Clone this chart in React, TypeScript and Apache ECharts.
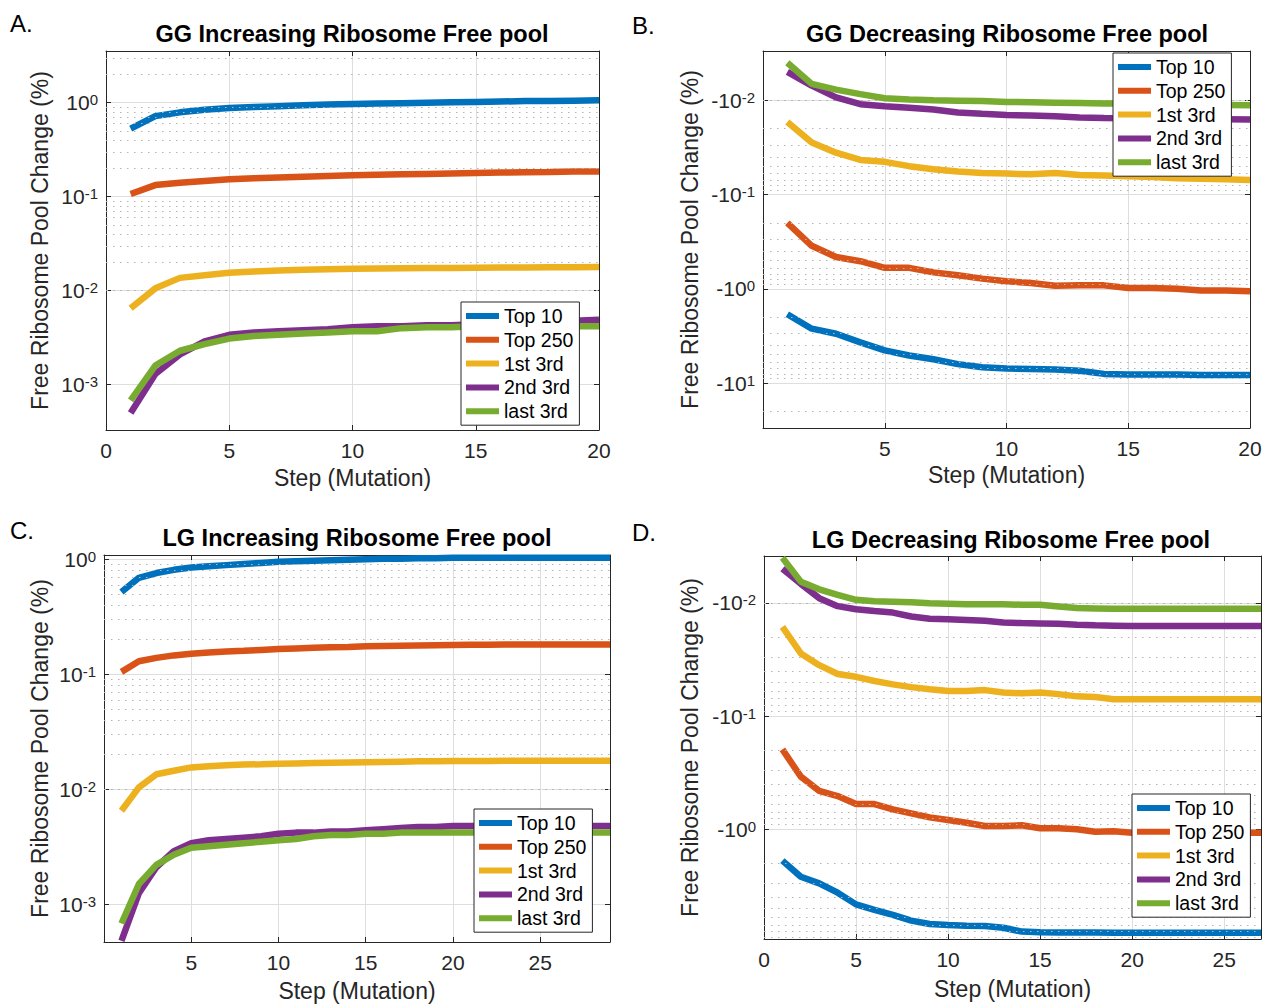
import React, { useEffect, useRef } from 'react';
import * as echarts from 'echarts';

const SERIES_NAMES = ['Top 10', 'Top 250', '1st 3rd', '2nd 3rd', 'last 3rd'];
const COLORS = ['#0072BD', '#D95319', '#EDB120', '#7E2F8E', '#77AC30'];
const PANEL_LETTERS = ['A.', 'B.', 'C.', 'D.'];
const PANEL_TITLES = [
  'GG Increasing Ribosome Free pool',
  'GG Decreasing Ribosome Free pool',
  'LG Increasing Ribosome Free pool',
  'LG Decreasing Ribosome Free pool',
];
const X_NAME = 'Step (Mutation)';
const Y_NAME = 'Free Ribosome Pool Change (%)';

// steps (x values)
const ggSteps = [1, 2, 3, 4, 5, 6, 7, 8, 9, 10, 11, 12, 13, 14, 15, 16, 17, 18, 19, 20];
const lgIncSteps = [1, 2, 3, 4, 5, 6, 7, 8, 9, 10, 11, 12, 13, 14, 15, 16, 17, 18, 19, 20, 21, 22, 23, 24, 25, 26, 27, 28, 29];
const lgDecSteps = [1, 2, 3, 4, 5, 6, 7, 8, 9, 10, 11, 12, 13, 14, 15, 16, 17, 18, 19, 20, 21, 22, 23, 24, 25, 26, 27];

// A. GG increasing
const ggIncTop10 = [0.53, 0.72, 0.79, 0.84, 0.88, 0.9, 0.92, 0.94, 0.96, 0.97, 0.98, 0.99, 1.0, 1.01, 1.02, 1.03, 1.04, 1.04, 1.05, 1.06];
const ggIncTop250 = [0.107, 0.133, 0.141, 0.147, 0.153, 0.157, 0.16, 0.163, 0.166, 0.169, 0.171, 0.173, 0.175, 0.177, 0.179, 0.181, 0.182, 0.183, 0.185, 0.186];
const ggInc1st = [0.0065, 0.0106, 0.0137, 0.0146, 0.0155, 0.016, 0.0164, 0.0167, 0.0169, 0.0171, 0.0172, 0.0173, 0.0174, 0.0175, 0.0176, 0.0177, 0.0177, 0.0178, 0.0178, 0.0179];
const ggInc2nd = [0.0005, 0.0013, 0.0021, 0.0029, 0.0034, 0.0036, 0.0037, 0.0038, 0.0039, 0.0041, 0.0042, 0.0042, 0.0043, 0.0043, 0.0044, 0.0045, 0.0046, 0.0047, 0.0048, 0.0049];
const ggIncLast = [0.00068, 0.0016, 0.0023, 0.0027, 0.0031, 0.0033, 0.0034, 0.0035, 0.0036, 0.0037, 0.0037, 0.004, 0.0041, 0.0041, 0.0042, 0.0042, 0.0042, 0.0042, 0.0042, 0.0042];

// B. GG decreasing
const ggDecTop10 = [-1.86, -2.65, -3.0, -3.7, -4.5, -5.1, -5.6, -6.3, -6.8, -7.0, -7.1, -7.2, -7.4, -8.0, -8.1, -8.1, -8.1, -8.2, -8.2, -8.2];
const ggDecTop250 = [-0.2, -0.35, -0.46, -0.51, -0.6, -0.6, -0.67, -0.72, -0.78, -0.83, -0.87, -0.93, -0.92, -0.92, -0.98, -0.98, -1.0, -1.04, -1.04, -1.06];
const ggDec1st = [-0.017, -0.028, -0.036, -0.043, -0.045, -0.05, -0.054, -0.057, -0.059, -0.06, -0.061, -0.059, -0.062, -0.063, -0.064, -0.065, -0.067, -0.068, -0.069, -0.07];
const ggDec2nd = [-0.005, -0.007, -0.0093, -0.011, -0.0116, -0.012, -0.0125, -0.0135, -0.0139, -0.0143, -0.0145, -0.0148, -0.0152, -0.0154, -0.0155, -0.0156, -0.0157, -0.0158, -0.0159, -0.016];
const ggDecLast = [-0.004, -0.0067, -0.0077, -0.0086, -0.0095, -0.0098, -0.01, -0.0101, -0.0102, -0.0104, -0.0105, -0.0106, -0.0107, -0.0108, -0.0108, -0.0109, -0.011, -0.0111, -0.0112, -0.0113];

// C. LG increasing
const lgIncTop10 = [0.52, 0.69, 0.76, 0.81, 0.85, 0.87, 0.89, 0.91, 0.93, 0.95, 0.96, 0.97, 0.98, 0.99, 1.0, 1.01, 1.01, 1.02, 1.02, 1.03, 1.03, 1.03, 1.03, 1.03, 1.03, 1.03, 1.03, 1.03, 1.03];
const lgIncTop250 = [0.105, 0.13, 0.139, 0.146, 0.151, 0.155, 0.158, 0.16, 0.163, 0.166, 0.168, 0.17, 0.172, 0.173, 0.175, 0.176, 0.177, 0.178, 0.179, 0.18, 0.181, 0.181, 0.182, 0.182, 0.182, 0.182, 0.182, 0.182, 0.182];
const lgInc1st = [0.0065, 0.0104, 0.0135, 0.0145, 0.0155, 0.0159, 0.0162, 0.0164, 0.0165, 0.0167, 0.0168, 0.0169, 0.017, 0.0171, 0.0172, 0.0173, 0.0174, 0.0175, 0.0175, 0.0176, 0.0176, 0.0176, 0.0177, 0.0177, 0.0177, 0.0177, 0.0177, 0.0177, 0.0177];
const lgInc2nd = [0.00048, 0.00125, 0.0021, 0.0029, 0.0034, 0.0036, 0.0037, 0.0038, 0.0039, 0.0041, 0.0042, 0.0042, 0.0043, 0.0043, 0.0044, 0.0045, 0.0046, 0.0047, 0.0047, 0.0048, 0.0048, 0.0048, 0.0048, 0.0048, 0.0048, 0.0048, 0.0048, 0.0048, 0.0048];
const lgIncLast = [0.00068, 0.0015, 0.0022, 0.0027, 0.0031, 0.0032, 0.0033, 0.0034, 0.0035, 0.0036, 0.0037, 0.0039, 0.004, 0.004, 0.0041, 0.0041, 0.0042, 0.0042, 0.0042, 0.0042, 0.0042, 0.0042, 0.0042, 0.0042, 0.0042, 0.0042, 0.0042, 0.0042, 0.0042];

// D. LG decreasing
const lgDecTop10 = [-1.89, -2.62, -3.0, -3.63, -4.6, -5.15, -5.7, -6.4, -6.85, -7.0, -7.1, -7.15, -7.4, -8.0, -8.1, -8.15, -8.15, -8.15, -8.2, -8.2, -8.2, -8.2, -8.2, -8.2, -8.2, -8.2, -8.2];
const lgDecTop250 = [-0.197, -0.343, -0.457, -0.508, -0.598, -0.598, -0.667, -0.723, -0.784, -0.828, -0.875, -0.936, -0.936, -0.92, -0.98, -0.98, -1.0, -1.05, -1.04, -1.07, -1.07, -1.07, -1.07, -1.07, -1.07, -1.07, -1.07];
const lgDec1st = [-0.0163, -0.028, -0.0355, -0.0425, -0.045, -0.049, -0.0525, -0.0555, -0.058, -0.06, -0.06, -0.059, -0.062, -0.063, -0.062, -0.064, -0.067, -0.068, -0.071, -0.071, -0.071, -0.071, -0.071, -0.071, -0.071, -0.071, -0.071];
const lgDec2nd = [-0.005, -0.0068, -0.0091, -0.0107, -0.0114, -0.0118, -0.0122, -0.0132, -0.0138, -0.014, -0.0142, -0.0144, -0.0149, -0.0151, -0.0152, -0.0153, -0.0156, -0.0158, -0.0159, -0.016, -0.016, -0.016, -0.016, -0.016, -0.016, -0.016, -0.016];
const lgDecLast = [-0.004, -0.0065, -0.0076, -0.0085, -0.0094, -0.0097, -0.0098, -0.0099, -0.0101, -0.0102, -0.0103, -0.0103, -0.0103, -0.0104, -0.0104, -0.0108, -0.0111, -0.0112, -0.0113, -0.0113, -0.0113, -0.0113, -0.0113, -0.0113, -0.0113, -0.0113, -0.0113];

// axis ranges
const X_RANGES = [[0, 20], [0, 20], [0, 29], [0, 27]];
const Y_RANGES = [[3.3e-4, 3.55], [0.003, 30], [4.7e-4, 1.09], [0.00386, 9.3]];

const PANEL_DATA = [
  { steps: ggSteps, values: [ggIncTop10, ggIncTop250, ggInc1st, ggInc2nd, ggIncLast], negative: false, hideZero: false },
  { steps: ggSteps, values: [ggDecTop10, ggDecTop250, ggDec1st, ggDec2nd, ggDecLast], negative: true, hideZero: true },
  { steps: lgIncSteps, values: [lgIncTop10, lgIncTop250, lgInc1st, lgInc2nd, lgIncLast], negative: false, hideZero: true },
  { steps: lgDecSteps, values: [lgDecTop10, lgDecTop250, lgDec1st, lgDec2nd, lgDecLast], negative: true, hideZero: false },
];

// layout (pixels)
const LAYOUT = [
  { box: [106, 51, 493, 379], legend: [461, 302], letter: [10, 23], title: [352, 34], xGap: 36, yGap: 55 },
  { box: [763, 51, 487, 377], legend: [1113, 53], letter: [632, 25], title: [1007, 34], xGap: 35, yGap: 62 },
  { box: [104, 555, 506, 387], legend: [474, 809], letter: [10, 530], title: [357, 538], xGap: 37, yGap: 53 },
  { box: [764, 556, 497, 383], legend: [1132, 794], letter: [632, 532], title: [1011, 540], xGap: 38, yGap: 63 },
];

const FONT = '"Liberation Sans", Arial, Helvetica, sans-serif';
const AX = '#262626';
const MAJOR_GRID = '#dedede';
const MINOR_GRID = '#b5b5b5';

function minorValues(min: number, max: number): number[] {
  const out: number[] = [];
  const lo = Math.floor(Math.log10(min));
  const hi = Math.ceil(Math.log10(max));
  for (let n = lo; n <= hi; n++) {
    for (let k = 2; k <= 9; k++) {
      const v = k * Math.pow(10, n);
      if (v > min * 1.0001 && v < max * 0.9999) out.push(v);
    }
  }
  return out;
}

function buildOption() {
  const grid: any[] = [];
  const xAxis: any[] = [];
  const yAxis: any[] = [];
  const series: any[] = [];
  const legend: any[] = [];
  const graphic: any[] = [];

  PANEL_DATA.forEach((p, i) => {
    const L = LAYOUT[i];
    const [gl, gt, gw, gh] = L.box;
    grid.push({ left: gl, top: gt, width: gw, height: gh, containLabel: false, outerBoundsMode: 'none' });

    const axisLine = { show: true, onZero: false, lineStyle: { color: AX, width: 1 } };
    const axisTick = { show: true, inside: true, length: 5, lineStyle: { color: AX, width: 1 } };
    const xBase = { type: 'value', gridIndex: i, min: X_RANGES[i][0], max: X_RANGES[i][1], interval: 5 };
    xAxis.push({
      ...xBase,
      position: 'bottom',
      name: X_NAME,
      nameLocation: 'middle',
      nameGap: L.xGap,
      nameTextStyle: { fontSize: 23, color: AX, fontFamily: FONT },
      axisLine,
      axisTick,
      axisLabel: {
        margin: 10,
        fontSize: 21,
        color: AX,
        fontFamily: FONT,
        formatter: (v: number) => {
          if (Math.abs(v % 5) > 1e-9) return '';
          if (p.hideZero && v === 0) return '';
          return String(v);
        },
      },
      splitLine: { show: true, lineStyle: { color: MAJOR_GRID, width: 1 } },
    });
    xAxis.push({
      ...xBase,
      position: 'top',
      axisLine,
      axisTick,
      axisLabel: { show: false },
      splitLine: { show: false },
    });

    const yBase = {
      type: 'log',
      logBase: 10,
      gridIndex: i,
      min: Y_RANGES[i][0],
      max: Y_RANGES[i][1],
      inverse: p.negative,
    };
    const sign = p.negative ? '-' : '';
    yAxis.push({
      ...yBase,
      position: 'left',
      name: Y_NAME,
      nameLocation: 'middle',
      nameGap: L.yGap,
      nameTextStyle: { fontSize: 23, color: AX, fontFamily: FONT },
      axisLine,
      axisTick,
      axisLabel: {
        margin: 8,
        color: AX,
        fontFamily: FONT,
        formatter: (v: number) => {
          const e = Math.log10(v);
          const r = Math.round(e);
          if (Math.abs(e - r) > 1e-6) return '';
          return `{b|${sign}10}{s|${r}}`;
        },
        rich: {
          b: { fontSize: 21, lineHeight: 21, padding: [8, 0, 0, 0], verticalAlign: 'bottom', color: AX, fontFamily: FONT },
          s: { fontSize: 15, lineHeight: 15, verticalAlign: 'top', color: AX, fontFamily: FONT },
        },
      },
      splitLine: { show: true, lineStyle: { color: MAJOR_GRID, width: 1 } },
    });
    yAxis.push({
      ...yBase,
      position: 'right',
      axisLine,
      axisTick,
      axisLabel: { show: false },
      splitLine: { show: false },
    });

    const toData = (vals: number[]) => p.steps.map((s, k) => [s, Math.abs(vals[k])]);

    // minor grid (dotted) carried by an invisible series beneath the curves
    series.push({
      type: 'line',
      xAxisIndex: 2 * i,
      yAxisIndex: 2 * i,
      data: toData(p.values[0]),
      showSymbol: false,
      symbol: 'none',
      lineStyle: { opacity: 0, width: 0 },
      silent: true,
      z: 1,
      markLine: {
        silent: true,
        symbol: ['none', 'none'],
        label: { show: false },
        lineStyle: { color: MINOR_GRID, type: [1.5, 5.5], width: 1 },
        emphasis: { disabled: true },
        data: minorValues(Y_RANGES[i][0], Y_RANGES[i][1]).map((v) => ({ yAxis: v })),
      },
    });

    p.values.forEach((vals, j) => {
      series.push({
        name: SERIES_NAMES[j],
        type: 'line',
        xAxisIndex: 2 * i,
        yAxisIndex: 2 * i,
        data: toData(vals),
        showSymbol: false,
        symbol: 'none',
        lineStyle: { width: 6.5, color: COLORS[j] },
        itemStyle: { color: COLORS[j] },
        emphasis: { disabled: true },
        z: 3 + j,
      });
    });

    legend.push({
      data: SERIES_NAMES,
      orient: 'vertical',
      left: L.legend[0],
      top: L.legend[1],
      icon: 'rect',
      itemWidth: 33,
      itemHeight: 6,
      itemGap: 3.8,
      padding: [4, 6, 4, 5],
      borderColor: AX,
      borderWidth: 1,
      backgroundColor: '#ffffff',
      selectedMode: false,
      textStyle: { fontSize: 19.5, lineHeight: 20, color: '#000', fontFamily: FONT },
      z: 20,
    });

    graphic.push({
      type: 'text',
      x: L.letter[0],
      y: L.letter[1],
      style: {
        text: PANEL_LETTERS[i],
        font: `24px ${FONT}`,
        fill: '#000',
        textAlign: 'left',
        textVerticalAlign: 'middle',
      },
    });
    graphic.push({
      type: 'text',
      x: L.title[0],
      y: L.title[1],
      style: {
        text: PANEL_TITLES[i],
        font: `bold 23.5px ${FONT}`,
        fill: '#000',
        textAlign: 'center',
        textVerticalAlign: 'middle',
      },
    });
  });

  return {
    animation: false,
    backgroundColor: '#ffffff',
    textStyle: { fontFamily: FONT },
    grid,
    xAxis,
    yAxis,
    series,
    legend,
    graphic,
  };
}

export default function App() {
  const ref = useRef<HTMLDivElement>(null);
  useEffect(() => {
    document.body.style.margin = '0';
    if (!ref.current) return;
    const chart = echarts.init(ref.current, undefined, { renderer: 'svg' });
    chart.setOption(buildOption() as any);
    return () => chart.dispose();
  }, []);
  return <div ref={ref} style={{ width: 1266, height: 1005 }} />;
}
